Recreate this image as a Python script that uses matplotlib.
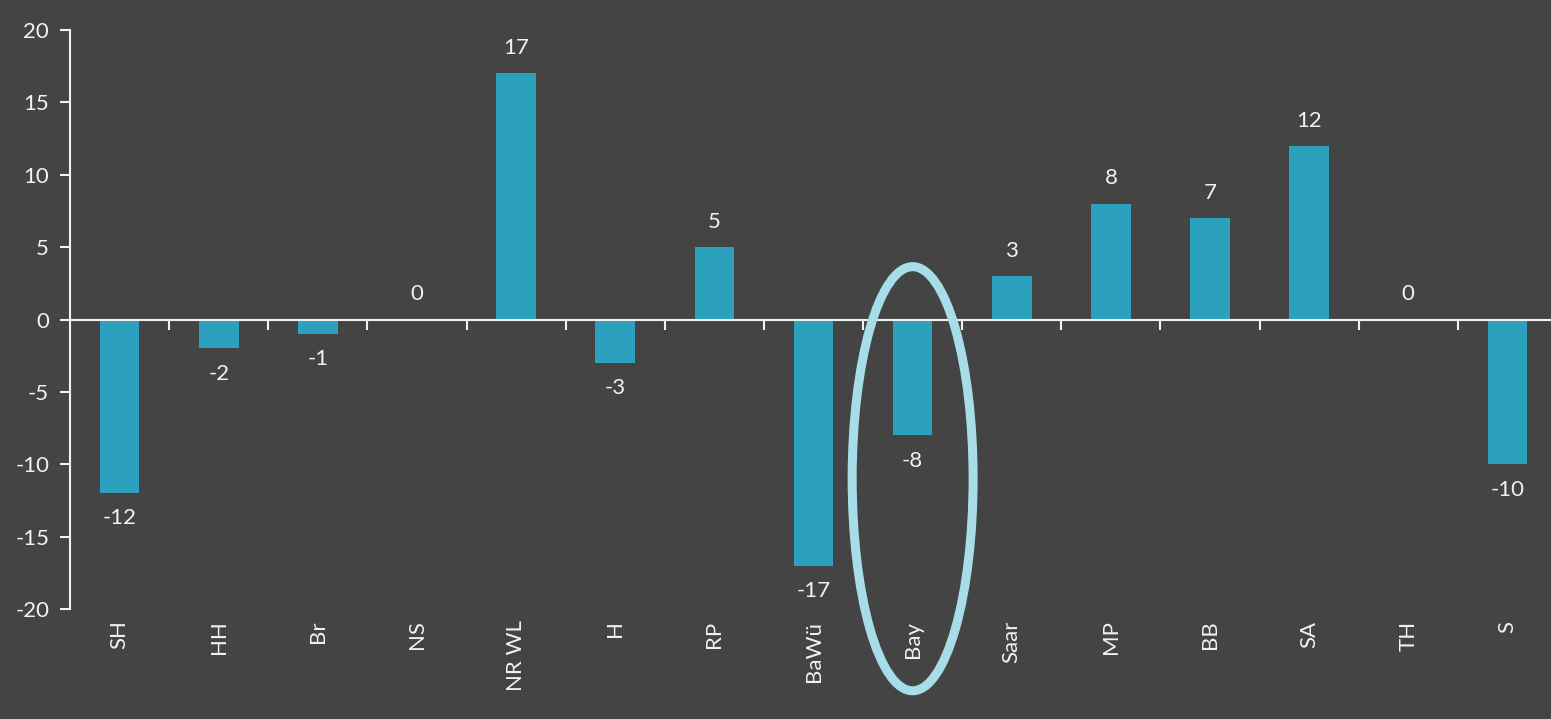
import matplotlib
matplotlib.use("Agg")
import matplotlib.pyplot as plt
from matplotlib.patches import Ellipse
from matplotlib.transforms import blended_transform_factory

# --- DATA ---
states = ["SH", "HH", "Br", "NS", "NR WL", "H", "RP", "BaWü", "Bay",
          "Saar", "MP", "BB", "SA", "TH", "S"]
change = [-12, -2, -1, 0, 17, -3, 5, -17, -8, 3, 8, 7, 12, 0, -10]
highlight = "Bay"

# --- STYLE ---
BG = "#444444"
BAR = "#2BA1BE"
FG = "#F2F2F2"
RING = "#A6DDE9"
FS = 16
plt.rcParams['font.family'] = ['Lato', 'DejaVu Sans']
plt.rcParams['axes.unicode_minus'] = False

W, H = 1551, 719
fig = plt.figure(figsize=(W / 100, H / 100), dpi=100, facecolor=BG)
ax = fig.add_axes([70 / W, 1 - 609 / H, (1557 - 70) / W, 579 / H])
ax.set_facecolor(BG)

x = list(range(len(states)))
ax.bar(x, change, width=0.4, color=BAR, zorder=2)
ax.set_xlim(-0.5, len(states) - 0.5)
ax.set_ylim(-20, 20)

# value labels above / below each bar
for xi, v in zip(x, change):
    if v >= 0:
        ax.annotate(str(v), (xi, v), xytext=(0, 11), textcoords="offset points",
                    ha="center", va="bottom", color=FG, fontsize=FS)
    else:
        ax.annotate(str(v), (xi, v), xytext=(0, -11), textcoords="offset points",
                    ha="center", va="top", color=FG, fontsize=FS)

# axes: left spine plus zero line with category separators
for side in ["top", "right"]:
    ax.spines[side].set_visible(False)
ax.spines["left"].set_color(FG)
ax.spines["left"].set_linewidth(1.5)
ax.spines["bottom"].set_position(("data", 0))
ax.spines["bottom"].set_color(FG)
ax.spines["bottom"].set_linewidth(1.5)
ax.spines["bottom"].set_zorder(3)

ax.set_yticks(range(-20, 21, 5))
ax.tick_params(axis="y", colors=FG, labelsize=FS, length=7, width=1.5, pad=8)
ax.set_xticks([i + 0.5 for i in x[:-1]])
ax.set_xticklabels([])
ax.tick_params(axis="x", colors=FG, length=7, width=1.5, direction="out")

# category names under the plot area
trans = blended_transform_factory(ax.transData, ax.transAxes)
for xi, name in zip(x, states):
    ax.text(xi, -0.02, name, transform=trans, rotation=90, ha="center",
            va="top", color=FG, fontsize=FS)

# ring around the highlighted state
hi = states.index(highlight)
ax.add_patch(Ellipse((hi, -11.0), 1.22, 29.3, fill=False, edgecolor=RING,
                     linewidth=6.5, clip_on=False, zorder=4))

fig.savefig("out.png", dpi=100, facecolor=BG)
